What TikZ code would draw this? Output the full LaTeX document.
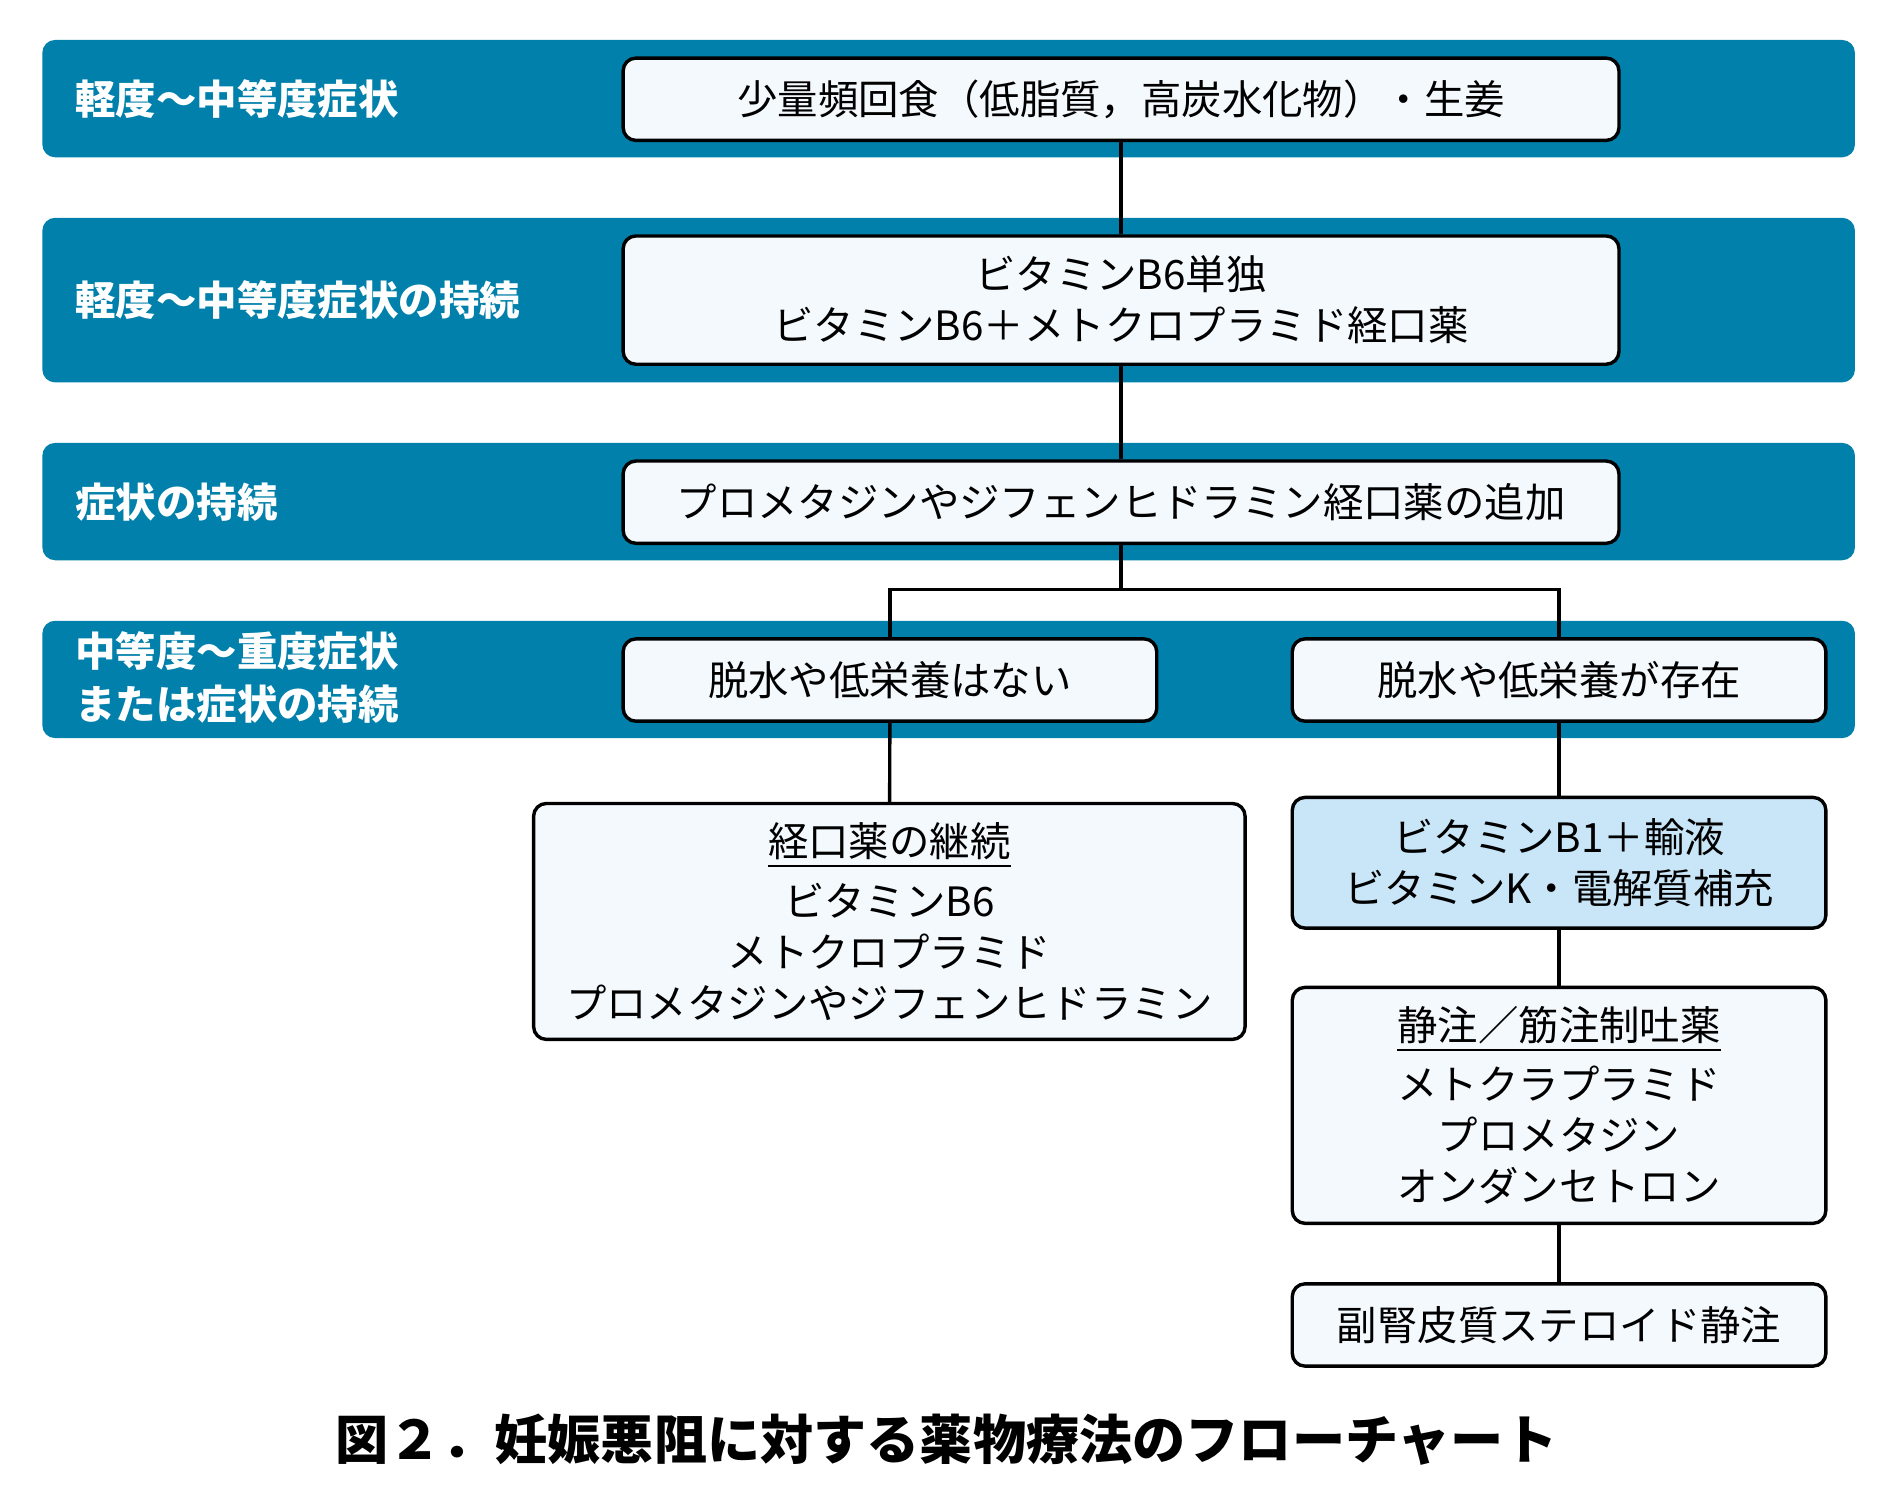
\documentclass[tikz,border=0pt]{standalone}
\usepackage{fontspec}
\setmainfont{Noto Sans CJK JP}
\usetikzlibrary{positioning}
\definecolor{bandblue}{RGB}{0,128,170}
\definecolor{boxfill}{RGB}{244,249,253}
\definecolor{lightblue}{RGB}{200,230,248}
\begin{document}
\begin{tikzpicture}
		\tikzstyle{Band} = [rectangle, rounded corners=3pt, fill=bandblue, minimum width=14.98cm, inner sep=0pt]
		\tikzstyle{Label} = [anchor=west, text=white, font=\fontsize{9.5}{12.5}\selectfont\bfseries, align=left]
		\tikzstyle{Box} = [rectangle, rounded corners=3pt, draw=black, thick, fill=boxfill, text centered, align=center, inner sep=0pt, font=\fontsize{9.5}{12}\selectfont]
		\tikzstyle{line} = [thick]
		
		\useasboundingbox (0,0) rectangle (15.62,-12.4);
		
		\node (band1) [Band, minimum height=0.97cm] at (7.84,-0.815) {};
		\node (band2) [Band, minimum height=1.36cm] at (7.84,-2.48) {};
		\node (band3) [Band, minimum height=0.97cm] at (7.84,-4.145) {};
		\node (band4) [Band, minimum height=0.97cm] at (7.84,-5.615) {};
		
		\node (lab1) [Label] at (0.5,-0.82) {軽度〜中等度症状};
		\node (lab2) [Label] at (0.5,-2.48) {軽度〜中等度症状の持続};
		\node (lab3) [Label] at (0.5,-4.15) {症状の持続};
		\node (lab4) [Label] at (0.5,-5.6) {中等度〜重度症状\\または症状の持続};
		
		\node (food) [Box, minimum width=8.23cm, minimum height=0.68cm] at (9.265,-0.82) {少量頻回食（低脂質，高炭水化物）・生姜};
		\node (vitb6) [Box, minimum width=8.23cm, minimum height=1.06cm] at (9.265,-2.48) {ビタミンB6単独\\ビタミンB6＋メトクロプラミド経口薬};
		\node (promet) [Box, minimum width=8.23cm, minimum height=0.68cm] at (9.265,-4.15) {プロメタジンやジフェンヒドラミン経口薬の追加};
		\node (nodehy) [Box, minimum width=4.41cm, minimum height=0.68cm] at (7.355,-5.62) {脱水や低栄養はない};
		\node (dehy) [Box, minimum width=4.41cm, minimum height=0.68cm] at (12.885,-5.62) {脱水や低栄養が存在};
		
		\node (oral) [Box, minimum width=5.88cm, minimum height=1.95cm] at (7.35,-7.615) {\underline{経口薬の継続}\\[2pt]ビタミンB6\\メトクロプラミド\\プロメタジンやジフェンヒドラミン};
		\node (vitb1) [Box, fill=lightblue, minimum width=4.41cm, minimum height=1.08cm] at (12.885,-7.13) {ビタミンB1＋輸液\\ビタミンK・電解質補充};
		\node (inject) [Box, minimum width=4.41cm, minimum height=1.95cm] at (12.885,-9.135) {\underline{静注／筋注制吐薬}\\[2pt]メトクラプラミド\\プロメタジン\\オンダンセトロン};
		\node (steroid) [Box, minimum width=4.41cm, minimum height=0.68cm] at (12.885,-10.95) {副腎皮質ステロイド静注};
		
		\coordinate (split) at (9.265,-4.87);
		\draw [line] (food) -- (vitb6);
		\draw [line] (vitb6) -- (promet);
		\draw [line] (promet) -- (split);
		\draw [line] (nodehy.north) |- (split) -| (dehy.north);
		\draw [line] (nodehy) -- (oral);
		\draw [line] (dehy) -- (vitb1);
		\draw [line] (vitb1) -- (inject);
		\draw [line] (inject) -- (steroid);
		
		\node (caption) [font=\fontsize{12.5}{15}\selectfont\bfseries] at (7.82,-11.9) {図２．妊娠悪阻に対する薬物療法のフローチャート};
\end{tikzpicture}
\end{document}
